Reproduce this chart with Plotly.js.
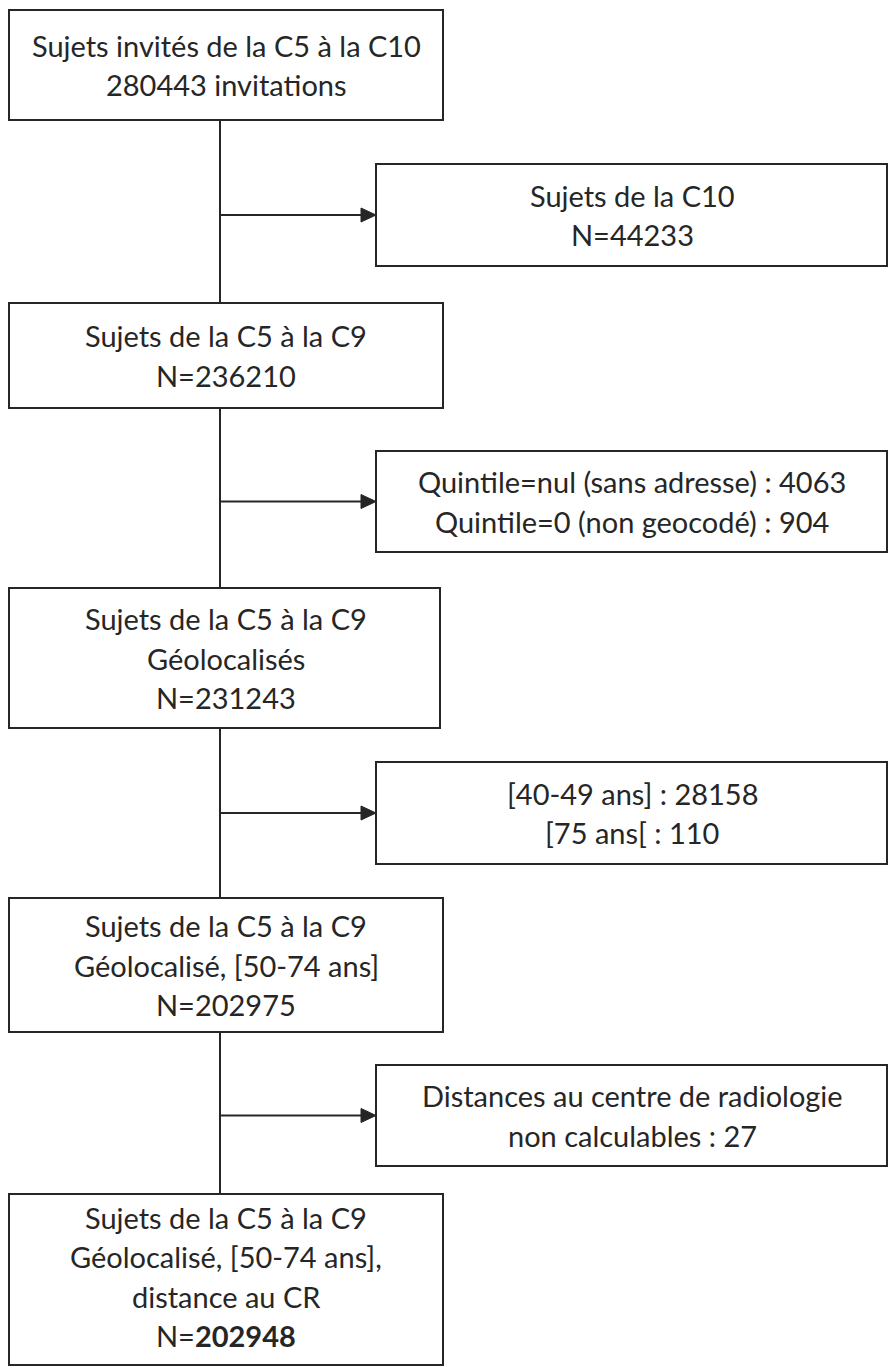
<!DOCTYPE html>
<html>
<head>
<meta charset="utf-8">
<script src="https://cdn.plot.ly/plotly-3.0.1.min.js"></script>
<style>html,body{margin:0;padding:0;background:#fff;}#chart{width:888px;height:1367px;}</style>
</head>
<body>
<div id="chart"></div>
<script>
// ---- data ----
const mainLabels = [
  ["Sujets invités de la C5 à la C10"],
  ["Sujets de la C5 à la C9"],
  ["Sujets de la C5 à la C9", "Géolocalisés"],
  ["Sujets de la C5 à la C9", "Géolocalisé, [50-74 ans]"],
  ["Sujets de la C5 à la C9", "Géolocalisé, [50-74 ans],", "distance au CR"]
];
const mainCounts = [280443, 236210, 231243, 202975, 202948];
const mainCountSuffix = [" invitations", "", "", "", ""];

const exclusionLabels = ["Sujets de la C10", "Quintile=nul (sans adresse)", "Quintile=0 (non geocodé)",
  "[40-49 ans]", "[75 ans[", "Distances au centre de radiologie|non calculables"];
const exclusionCounts = [44233, 4063, 904, 28158, 110, 27];
const exclusionStep = [0, 1, 1, 2, 2, 3];

// ---- layout (positions, in pixels) ----
const W = 888, H = 1367;
const mainX = [9, 443];
const mainY = [[10, 120], [303, 408], [588, 728], [898, 1032], [1194, 1365]];
const sideX = [376, 887];
const sideY = [[164, 266], [451, 552], [762, 864], [1065, 1166]];
const spineX = 220;
const lineGap = 39.5;
const ink = "#262626";
const fontFamily = "Lato, Carlito, Calibri, sans-serif";

const ctx = document.createElement("canvas").getContext("2d");
ctx.font = "100px Lato";
const fs = 100 * 282 / ctx.measureText("Sujets de la C5 à la C9").width;

const shapes = [];
const annotations = [];

function rect(x0, x1, y0, y1) {
  shapes.push({type: "rect", xref: "x", yref: "y", x0: x0, x1: x1, y0: y0, y1: y1,
    line: {color: ink, width: 2}, fillcolor: "rgba(0,0,0,0)"});
}
function textLines(lines, cx, y0, y1) {
  const mid = (y0 + y1) / 2;
  lines.forEach((t, i) => {
    annotations.push({x: cx, y: mid + (i - (lines.length - 1) / 2) * lineGap, xref: "x", yref: "y",
      text: t, showarrow: false, xanchor: "center", yanchor: "middle",
      font: {family: fontFamily, size: fs, color: ink}});
  });
}

// main boxes
mainLabels.forEach((lab, i) => {
  const [y0, y1] = mainY[i];
  const x1 = i === 2 ? 440 : mainX[1];
  rect(mainX[0], x1, y0, y1);
  let countTxt;
  if (mainCountSuffix[i]) countTxt = mainCounts[i] + mainCountSuffix[i];
  else if (i === mainCounts.length - 1) countTxt = "N=<b>" + mainCounts[i] + "</b>";
  else countTxt = "N=" + mainCounts[i];
  const mid = i === mainLabels.length - 1 ? [y0, y1 - 6] : [y0, y1];
  textLines(lab.concat([countTxt]), (mainX[0] + mainX[1]) / 2, mid[0], mid[1]);
});

// spine segments
for (let i = 0; i < mainY.length - 1; i++) {
  shapes.push({type: "line", xref: "x", yref: "y", x0: spineX, x1: spineX,
    y0: mainY[i][1], y1: mainY[i + 1][0], line: {color: ink, width: 2}});
}

// side (exclusion) boxes
sideY.forEach((yy, s) => {
  const [y0, y1] = yy;
  rect(sideX[0], sideX[1], y0, y1);
  const lines = [];
  exclusionLabels.forEach((lab, k) => {
    if (exclusionStep[k] !== s) return;
    const parts = lab.split("|");
    if (s === 0) { lines.push(parts[0]); lines.push("N=" + exclusionCounts[k]); }
    else {
      for (let p = 0; p < parts.length - 1; p++) lines.push(parts[p]);
      lines.push(parts[parts.length - 1] + " : " + exclusionCounts[k]);
    }
  });
  textLines(lines, 632, y0, y1);
  const ay = (y0 + y1) / 2;
  shapes.push({type: "line", xref: "x", yref: "y", x0: spineX, x1: sideX[0] - 12, y0: ay, y1: ay,
    line: {color: ink, width: 2}});
  shapes.push({type: "path", xref: "x", yref: "y",
    path: `M ${sideX[0] - 15} ${ay - 7} L ${sideX[0]} ${ay} L ${sideX[0] - 15} ${ay + 7} Z`,
    fillcolor: ink, line: {color: ink, width: 1}});
});

const layout = {
  width: W, height: H,
  margin: {l: 0, r: 0, t: 0, b: 0, pad: 0},
  paper_bgcolor: "#ffffff", plot_bgcolor: "#ffffff",
  showlegend: false,
  xaxis: {range: [0, W], visible: false, fixedrange: true},
  yaxis: {range: [H, 0], visible: false, fixedrange: true},
  shapes: shapes,
  annotations: annotations
};
Plotly.newPlot("chart", [], layout, {staticPlot: true, displayModeBar: false});
</script>
</body>
</html>
